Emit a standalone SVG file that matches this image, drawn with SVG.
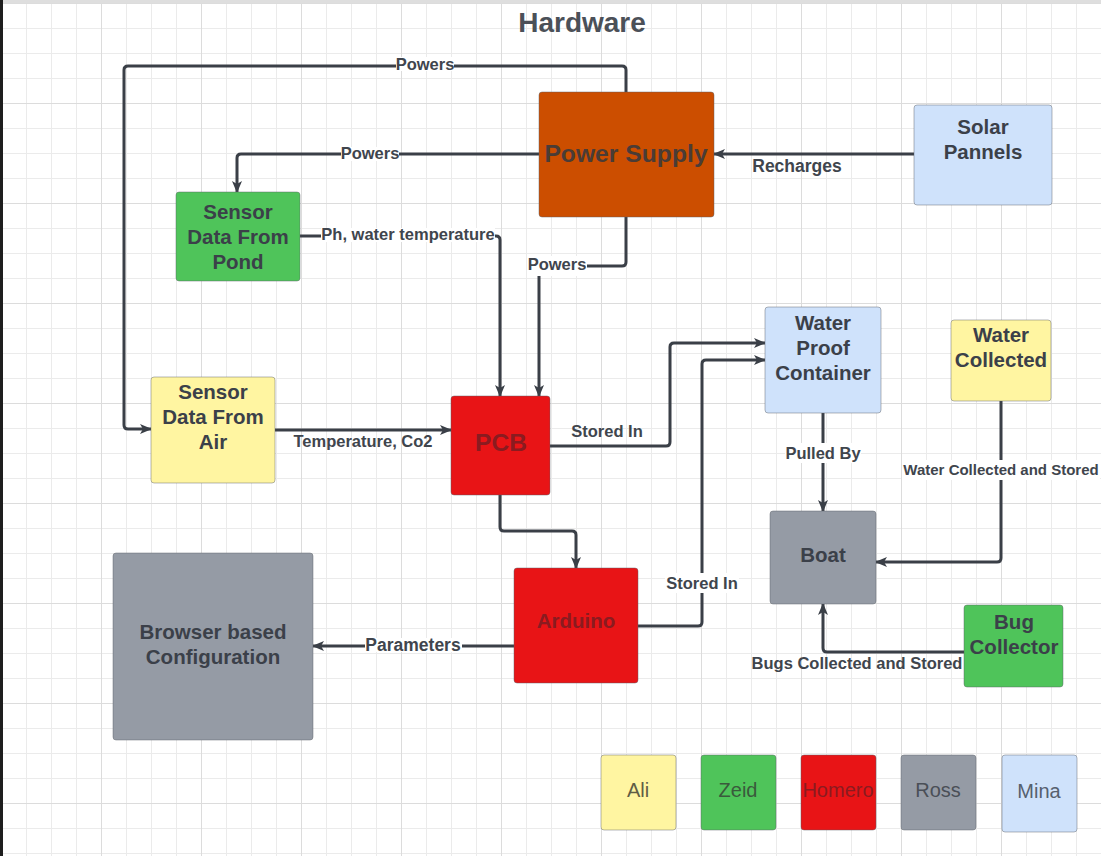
<svg xmlns="http://www.w3.org/2000/svg" width="1101" height="856" viewBox="0 0 1101 856">
<style>
.node{stroke:#5a5f66;stroke-opacity:.45;stroke-width:1}
.nt{font-family:"Liberation Sans",Arial,sans-serif;font-weight:bold;font-size:20.5px;fill:#3b4049;text-anchor:middle}
.ntr{fill:#8a1b20}
.lbl{font-family:"Liberation Sans",Arial,sans-serif;font-weight:bold;font-size:16.5px;fill:#40454d;text-anchor:middle}
.lg{font-family:"Liberation Sans",Arial,sans-serif;font-size:20px;fill:#4a4f57;text-anchor:middle}
.con{fill:none;stroke:#3a3f47;stroke-width:3;stroke-linejoin:round}
.bg{fill:#ffffff}
</style>
<defs>
<pattern id="gmin" patternUnits="userSpaceOnUse" x="1" y="3" width="25" height="25">
<path d="M0.5,0 V25 M0,0.5 H25" stroke="#ebebeb" stroke-width="1" fill="none"/>
</pattern>
<pattern id="gmaj" patternUnits="userSpaceOnUse" x="1" y="3" width="100" height="100">
<path d="M0.5,0 V100 M0,0.5 H100" stroke="#dcdcdc" stroke-width="1" fill="none"/>
</pattern>
<marker id="ah" viewBox="0 0 12 10" markerWidth="12" markerHeight="10" refX="11" refY="5" orient="auto" markerUnits="userSpaceOnUse">
<path d="M0,0 L12,5 L0,10 L3,5 z" fill="#3a3f47"/>
</marker>
</defs>
<rect width="1101" height="856" fill="#ffffff"/>
<rect width="1101" height="856" fill="url(#gmin)"/>
<rect width="1101" height="856" fill="url(#gmaj)"/>
<rect x="0" y="0" width="1101" height="3" fill="#dedede"/>
<rect x="0" y="0" width="3" height="856" fill="#1e1e1e"/>
<text x="582" y="32" font-family="Liberation Sans,Arial,sans-serif" font-weight="bold" font-size="28" fill="#4b5058" text-anchor="middle">Hardware</text>

<g id="connectors">
<path class="con" d="M626,92 V70 Q626,66 622,66 H128 Q124,66 124,70 V425 Q124,429 128,429 H151" marker-end="url(#ah)"/>
<path class="con" d="M539,154 H241 Q237,154 237,158 V192" marker-end="url(#ah)"/>
<path class="con" d="M626,217 V262 Q626,266 622,266 H543 Q539,266 539,270 V396" marker-end="url(#ah)"/>
<path class="con" d="M300,236 H496 Q500,236 500,240 V396" marker-end="url(#ah)"/>
<path class="con" d="M914,154 H714" marker-end="url(#ah)"/>
<path class="con" d="M275,430 H451" marker-end="url(#ah)"/>
<path class="con" d="M550,446 H666 Q670,446 670,442 V347 Q670,343 674,343 H765" marker-end="url(#ah)"/>
<path class="con" d="M500,495 V527 Q500,531 504,531 H572 Q576,531 576,535 V568" marker-end="url(#ah)"/>
<path class="con" d="M638,626 H698 Q702,626 702,622 V364 Q702,360 706,360 H765" marker-end="url(#ah)"/>
<path class="con" d="M514,646 H313" marker-end="url(#ah)"/>
<path class="con" d="M823,413 V511" marker-end="url(#ah)"/>
<path class="con" d="M1001,401 V558 Q1001,562 997,562 H876" marker-end="url(#ah)"/>
<path class="con" d="M964,652 H827 Q823,652 823,648 V604" marker-end="url(#ah)"/>
<rect class="bg" x="396" y="57" width="58" height="14"/>
<text class="lbl" x="425" y="70">Powers</text>
<rect class="bg" x="341" y="147" width="58" height="14"/>
<text class="lbl" x="370" y="159">Powers</text>
<rect class="bg" x="527" y="256" width="60" height="20"/>
<text class="lbl" x="557" y="270">Powers</text>
<rect class="bg" x="321" y="228" width="174" height="14"/>
<text class="lbl" x="408" y="240">Ph, water temperature</text>
<text class="lbl" x="797" y="172" style="font-size:17.5px">Recharges</text>
<text class="lbl" x="363" y="447">Temperature, Co2</text>
<text class="lbl" x="607" y="437">Stored In</text>
<rect class="bg" x="665" y="573" width="74" height="20"/>
<text class="lbl" x="702" y="589">Stored In</text>
<rect class="bg" x="365" y="638" width="97" height="14"/>
<text class="lbl" x="413" y="651" style="font-size:17.5px">Parameters</text>
<rect class="bg" x="785" y="443" width="76" height="20"/>
<text class="lbl" x="823" y="459">Pulled By</text>
<rect class="bg" x="902" y="460" width="198" height="20"/>
<text class="lbl" x="1001" y="475" style="font-size:15px">Water Collected and Stored</text>
<text class="lbl" x="857" y="669">Bugs Collected and Stored</text>
</g>

<g id="power-supply">
<rect class="node" x="539" y="92" width="175" height="125" rx="3" fill="#cc4e00"/>
<text class="nt" x="626" y="162" style="font-size:24.7px;fill:#4a3c36">Power Supply</text>
</g>
<g id="solar-pannels">
<rect class="node" x="914" y="105" width="138" height="100" rx="3" fill="#cfe2fb"/>
<text class="nt" x="983" y="134">Solar</text>
<text class="nt" x="983" y="159">Pannels</text>
</g>
<g id="sensor-pond">
<rect class="node" x="176" y="192" width="124" height="89" rx="3" fill="#4fc45a"/>
<text class="nt" x="238" y="219">Sensor</text>
<text class="nt" x="238" y="244">Data From</text>
<text class="nt" x="238" y="269">Pond</text>
</g>
<g id="sensor-air">
<rect class="node" x="151" y="377" width="124" height="106" rx="3" fill="#fff5a1"/>
<text class="nt" x="213" y="399">Sensor</text>
<text class="nt" x="213" y="424">Data From</text>
<text class="nt" x="213" y="449">Air</text>
</g>
<g id="pcb">
<rect class="node" x="451" y="396" width="99" height="99" rx="3" fill="#e81416"/>
<text class="nt ntr" x="501" y="451" style="font-size:24.6px">PCB</text>
</g>
<g id="water-proof-container">
<rect class="node" x="765" y="307" width="116" height="106" rx="3" fill="#cfe2fb"/>
<text class="nt" x="823" y="330">Water</text>
<text class="nt" x="823" y="355">Proof</text>
<text class="nt" x="823" y="380">Container</text>
</g>
<g id="water-collected">
<rect class="node" x="951" y="320" width="100" height="81" rx="3" fill="#fff5a1"/>
<text class="nt" x="1001" y="342">Water</text>
<text class="nt" x="1001" y="367">Collected</text>
</g>
<g id="boat">
<rect class="node" x="770" y="511" width="106" height="93" rx="3" fill="#959ba5"/>
<text class="nt" x="823" y="562">Boat</text>
</g>
<g id="bug-collector">
<rect class="node" x="964" y="605" width="99" height="82" rx="3" fill="#4fc45a"/>
<text class="nt" x="1014" y="629">Bug</text>
<text class="nt" x="1014" y="654">Collector</text>
</g>
<g id="arduino">
<rect class="node" x="514" y="568" width="124" height="115" rx="3" fill="#e81416"/>
<text class="nt ntr" x="576" y="628">Arduino</text>
</g>
<g id="browser-config">
<rect class="node" x="113" y="553" width="200" height="187" rx="3" fill="#959ba5"/>
<text class="nt" x="213" y="639">Browser based</text>
<text class="nt" x="213" y="664">Configuration</text>
</g>

<g id="legend-ali">
<rect class="node" x="601" y="755" width="75" height="75" rx="3" fill="#fff5a1"/>
<text class="lg" x="638" y="797" style="fill:#5f5d45">Ali</text>
</g>
<g id="legend-zeid">
<rect class="node" x="701" y="755" width="75" height="75" rx="3" fill="#4fc45a"/>
<text class="lg" x="738" y="797" style="fill:#3a5a3c">Zeid</text>
</g>
<g id="legend-homero">
<rect class="node" x="801" y="755" width="75" height="75" rx="3" fill="#e81416"/>
<text class="lg" x="838" y="797" style="fill:#8a1b20">Homero</text>
</g>
<g id="legend-ross">
<rect class="node" x="901" y="755" width="75" height="75" rx="3" fill="#959ba5"/>
<text class="lg" x="938" y="797">Ross</text>
</g>
<g id="legend-mina">
<rect class="node" x="1002" y="755" width="75" height="77" rx="3" fill="#cfe2fb"/>
<text class="lg" x="1039" y="798" style="fill:#56606e">Mina</text>
</g>
</svg>
